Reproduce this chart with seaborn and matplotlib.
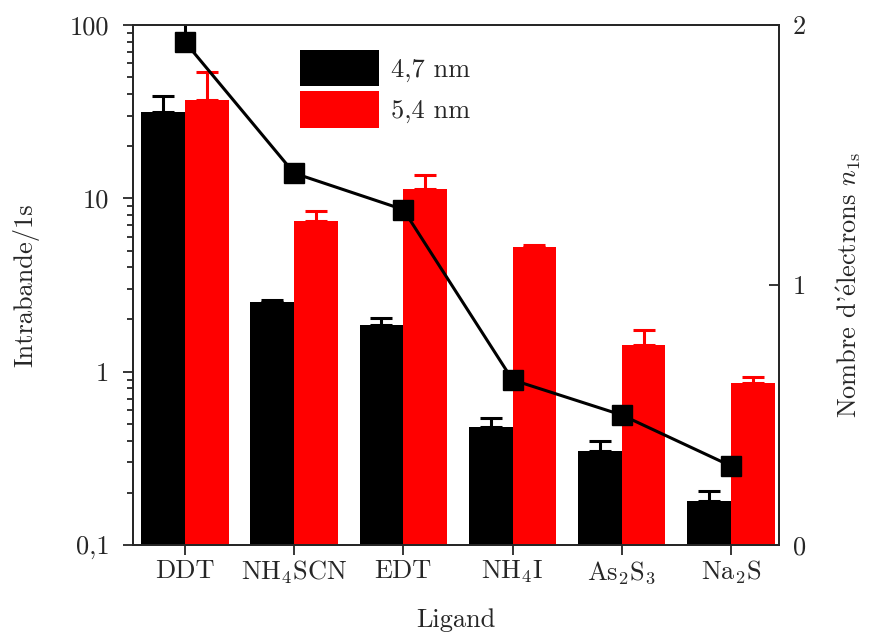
import numpy as np
import pandas as pd
import matplotlib
matplotlib.use("Agg")
import matplotlib.pyplot as plt
from matplotlib.ticker import FixedLocator, FixedFormatter, LogLocator, NullFormatter
import seaborn as sns

# values
ligands = ["DDT", "NH$_4$SCN", "EDT", "NH$_4$I", "As$_2$S$_3$", "Na$_2$S"]
sizes = ["4,7 nm", "5,4 nm"]
intra_47 = [31.5, 2.52, 1.86, 0.48, 0.35, 0.18]
intra_47_top = [39.0, 2.6, 2.04, 0.54, 0.40, 0.205]
intra_54 = [37.0, 7.4, 11.3, 5.24, 1.43, 0.86]
intra_54_top = [53.6, 8.4, 13.6, 5.4, 1.74, 0.93]
n1s = [1.935, 1.43, 1.29, 0.635, 0.50, 0.304]
n1s_err = [0.08, 0, 0, 0, 0, 0]
colors = ["black", "red"]

sns.set_style("ticks")
plt.rcParams["font.family"] = ["cmr10", "DejaVu Serif"]
plt.rcParams["mathtext.fontset"] = "cm"
plt.rcParams["axes.formatter.use_mathtext"] = True
plt.rcParams["font.size"] = 19
plt.rcParams["axes.labelsize"] = 19
plt.rcParams["xtick.labelsize"] = 19
plt.rcParams["ytick.labelsize"] = 19
plt.rcParams["axes.linewidth"] = 1.3

df = pd.DataFrame({
    "ligand": ligands * 2,
    "size": [sizes[0]] * 6 + [sizes[1]] * 6,
    "value": intra_47 + intra_54,
})

fig, ax = plt.subplots(figsize=(8.69, 6.39), dpi=100)
fig.subplots_adjust(left=0.153, right=0.8964, top=0.9609, bottom=0.1471)

sns.barplot(data=df, x="ligand", y="value", hue="size", palette=colors,
            saturation=1, errorbar=None, width=0.8, linewidth=0, ax=ax)
ax.set_yscale("log")

# upper error bars only
for cont, vals, tops, c in zip(ax.containers, [intra_47, intra_54],
                               [intra_47_top, intra_54_top], colors):
    xs = [p.get_x() + p.get_width() / 2 for p in cont]
    lower = np.zeros(len(vals))
    upper = np.array(tops) - np.array(vals)
    ax.errorbar(xs, vals, yerr=[lower, upper], fmt="none", ecolor=c,
                elinewidth=2.2, capsize=8, capthick=2.2, zorder=3)

ax.set_ylim(0.1, 100)
ax.set_xlim(-0.476, 5.44)
ax.yaxis.set_major_locator(FixedLocator([0.1, 1, 10, 100]))
ax.yaxis.set_major_formatter(FixedFormatter(["0,1", "1", "10", "100"]))
ax.yaxis.set_minor_locator(LogLocator(base=10, subs=np.arange(2, 10)))
ax.yaxis.set_minor_formatter(NullFormatter())
ax.tick_params(axis="y", which="major", direction="out", length=7, width=1.3, pad=10)
ax.tick_params(axis="y", which="minor", direction="out", length=4, width=1.3)
ax.tick_params(axis="x", direction="out", length=7, width=1.3, pad=3)
ax.set_xlabel("Ligand", labelpad=16)
ax.set_ylabel("Intrabande/1s", labelpad=22)

ax.legend(loc="upper left", bbox_to_anchor=(0.2585, 0.952), frameon=False,
          handlelength=3.0, handleheight=1.75, handletextpad=0.45,
          labelspacing=0.18, borderpad=0, borderaxespad=0, fontsize=19)

# number of 1s electrons on the right axis
ax2 = ax.twinx()
ax2.errorbar(range(len(ligands)), n1s, yerr=[np.zeros(6), n1s_err],
             fmt="-s", color="black", lw=2.2, ms=14, ecolor="black",
             elinewidth=2.2, capsize=0)
ax2.set_ylim(0, 2)
ax2.yaxis.set_major_locator(FixedLocator([0, 1, 2]))
ax2.yaxis.set_major_formatter(FixedFormatter(["0", "1", "2"]))
ax2.tick_params(axis="y", direction="in", length=7, width=1.3, pad=10)
ax2.set_ylabel(r"Nombre d'$\mathrm{\acute{e}}$lectrons $n_{\mathrm{1s}}$", labelpad=20)

plt.savefig("out.png", dpi=100)
